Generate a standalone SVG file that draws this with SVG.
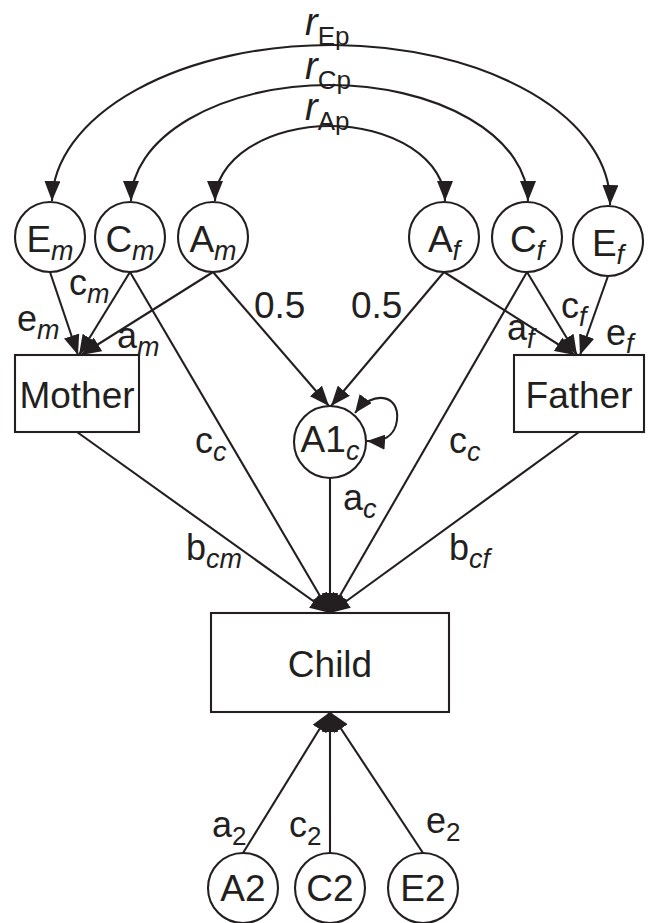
<svg xmlns="http://www.w3.org/2000/svg" width="650" height="923" viewBox="0 0 650 923">
<style>
  .ln { stroke:#231f20; stroke-width:2.1; fill:none; }
  .arr { marker-end:url(#ah); }
  .dbl { marker-start:url(#ah); marker-end:url(#ah); }
  .nd { stroke:#231f20; stroke-width:2.1; fill:#fff; }
  text { font-family:"Liberation Sans", Arial, sans-serif; fill:#231f20; }
  .big { font-size:37px; }
  .lab { font-size:36px; }
  .sub { font-size:27px; font-style:italic; }
  .subn { font-size:26px; }
  .r { font-size:38px; font-style:italic; }
  .rs { font-size:26px; }
</style>
<defs>
  <marker id="ah" viewBox="0 0 20 16" refX="20" refY="8" markerWidth="20" markerHeight="16" markerUnits="userSpaceOnUse" orient="auto-start-reverse">
    <path d="M0,0 L20,8 L0,16 z" fill="#231f20"/>
  </marker>
  <marker id="ahs" viewBox="0 0 18 15" refX="18" refY="7.5" markerWidth="18" markerHeight="15" markerUnits="userSpaceOnUse" orient="auto-start-reverse">
    <path d="M0,0 L18,7.5 L0,15 z" fill="#231f20"/>
  </marker>
</defs>

<g id="connectors">
  <path class="ln dbl" d="M52,201 A279,158 0 0 1 610,205"/>
  <path class="ln dbl" d="M131,201 A198.5,116 0 0 1 528,201"/>
  <path class="ln dbl" d="M215,201 A115,75 0 0 1 445,201"/>
  <path class="ln arr" d="M50,272 L78,355"/>
  <path class="ln arr" d="M130,272 L79,355"/>
  <path class="ln arr" d="M213,272 L81,355"/>
  <path class="ln arr" d="M213,272 L329,406"/>
  <path class="ln arr" d="M444,272 L331,406"/>
  <path class="ln arr" d="M444,272 L575,355"/>
  <path class="ln arr" d="M527,272 L577,355"/>
  <path class="ln arr" d="M608,276 L580,355"/>
  <path class="ln" marker-start="url(#ahs)" marker-end="url(#ahs)" d="M355,413 C372,390 400,394 397,420 C395,437 382,442 367,441"/>
  <path class="ln arr" d="M77,432 L330,613"/>
  <path class="ln arr" d="M130,272 L330,613"/>
  <path class="ln arr" d="M330,478 L330,613"/>
  <path class="ln arr" d="M527,272 L330,613"/>
  <path class="ln arr" d="M579,432 L330,613"/>
  <path class="ln arr" d="M243,853 L330,712"/>
  <path class="ln arr" d="M330,853 L330,712"/>
  <path class="ln arr" d="M423,853 L330,712"/>
</g>

<g id="labels">
  <text x="305" y="35"><tspan class="r">r</tspan><tspan class="rs" dy="10">Ep</tspan></text>
  <text x="305" y="79"><tspan class="r">r</tspan><tspan class="rs" dy="10">Cp</tspan></text>
  <text x="305" y="120"><tspan class="r">r</tspan><tspan class="rs" dy="10">Ap</tspan></text>

  <text class="lab" x="69" y="295">c<tspan class="sub" dy="8">m</tspan></text>
  <text class="lab" x="17" y="331">e<tspan class="sub" dy="8">m</tspan></text>
  <text class="lab" x="117" y="348">a<tspan class="sub" dy="8">m</tspan></text>
  <text class="big" x="254" y="318">0.5</text>
  <text class="big" x="351" y="318">0.5</text>
  <text class="lab" x="507" y="340">a<tspan class="sub" dy="8">f</tspan></text>
  <text class="lab" x="561" y="318">c<tspan class="sub" dy="8">f</tspan></text>
  <text class="lab" x="606" y="345">e<tspan class="sub" dy="8">f</tspan></text>

  <text class="lab" x="195" y="453">c<tspan class="sub" dy="8">c</tspan></text>
  <text class="lab" x="449" y="453">c<tspan class="sub" dy="8">c</tspan></text>
  <text class="lab" x="343" y="510">a<tspan class="sub" dy="8">c</tspan></text>
  <text class="lab" x="186" y="560">b<tspan class="sub" dy="8">cm</tspan></text>
  <text class="lab" x="449" y="560">b<tspan class="sub" dy="8">cf</tspan></text>

  <text class="lab" x="212" y="837">a<tspan class="subn" dy="8">2</tspan></text>
  <text class="lab" x="289" y="837">c<tspan class="subn" dy="8">2</tspan></text>
  <text class="lab" x="426" y="833">e<tspan class="subn" dy="8">2</tspan></text>
</g>

<g id="Em"><circle class="nd" cx="50" cy="237" r="35"/><text class="big" x="50" y="252" text-anchor="middle">E<tspan class="sub" dy="8">m</tspan></text></g>
<g id="Cm"><circle class="nd" cx="130" cy="237" r="35"/><text class="big" x="130" y="252" text-anchor="middle">C<tspan class="sub" dy="8">m</tspan></text></g>
<g id="Am"><circle class="nd" cx="213" cy="237" r="35"/><text class="big" x="213" y="252" text-anchor="middle">A<tspan class="sub" dy="8">m</tspan></text></g>
<g id="Af"><circle class="nd" cx="444" cy="237" r="35"/><text class="big" x="444" y="252" text-anchor="middle">A<tspan class="sub" dy="8">f</tspan></text></g>
<g id="Cf"><circle class="nd" cx="527" cy="237" r="35"/><text class="big" x="527" y="252" text-anchor="middle">C<tspan class="sub" dy="8">f</tspan></text></g>
<g id="Ef"><circle class="nd" cx="608" cy="241" r="35"/><text class="big" x="608" y="256" text-anchor="middle">E<tspan class="sub" dy="8">f</tspan></text></g>

<g id="Mother"><rect class="nd" x="15" y="355" width="124" height="77"/><text class="big" x="77" y="408" text-anchor="middle">Mother</text></g>
<g id="Father"><rect class="nd" x="514" y="355" width="130" height="77"/><text class="big" x="579" y="408" text-anchor="middle">Father</text></g>

<g id="A1c"><circle class="nd" cx="330" cy="442" r="36"/><text class="big" x="330" y="452" text-anchor="middle">A1<tspan class="sub" dy="8">c</tspan></text></g>

<g id="Child"><rect class="nd" x="211" y="613" width="238" height="99"/><text class="big" x="330" y="677" text-anchor="middle">Child</text></g>

<g id="A2"><circle class="nd" cx="243" cy="888" r="35"/><text class="big" x="243" y="901" text-anchor="middle">A2</text></g>
<g id="C2"><circle class="nd" cx="330" cy="888" r="35"/><text class="big" x="330" y="901" text-anchor="middle">C2</text></g>
<g id="E2"><circle class="nd" cx="423" cy="888" r="35"/><text class="big" x="423" y="901" text-anchor="middle">E2</text></g>
</svg>
